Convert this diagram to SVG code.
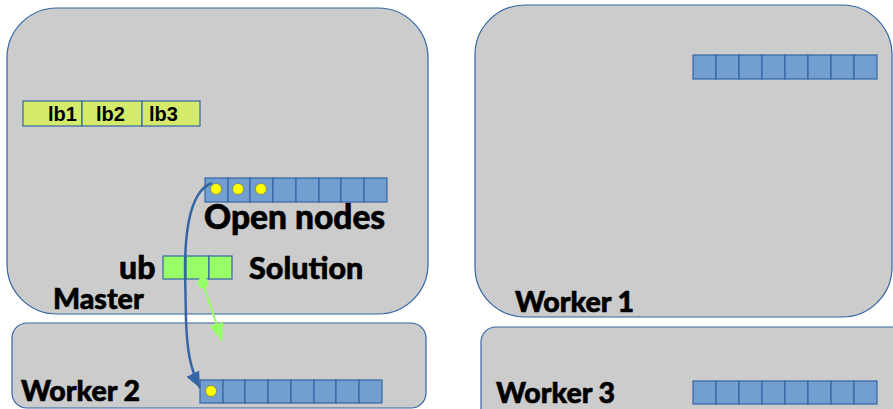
<svg xmlns="http://www.w3.org/2000/svg" width="893" height="409" viewBox="0 0 893 409">
  <defs>
    <style>
      .box { fill: #cccccc; stroke: #3465a4; stroke-width: 1.2; }
      .cell { fill: #729fcf; stroke: #3465a4; stroke-width: 1.2; }
      .lb { fill: #d4ea6b; stroke: #3465a4; stroke-width: 1.2; }
      .sol { fill: #99ff66; stroke: #3465a4; stroke-width: 1.2; }
      .dot { fill: #ffff00; stroke: #6b6b3a; stroke-width: 0.6; }
      .title { font-family: Lato, "Liberation Sans", sans-serif; font-weight: 900; fill: #000000; stroke: #000000; stroke-width: 0.6; }
      .lbtext { font-family: "Liberation Sans", Arial, sans-serif; font-weight: 700; font-size: 20px; fill: #000000; }
    </style>
    <marker id="headBlue" markerUnits="userSpaceOnUse" markerWidth="16" markerHeight="14" refX="16" refY="7" orient="auto">
      <path d="M0,0 L16,7 L0,14 Z" fill="#3465a4"/>
    </marker>
    <marker id="headGreen" markerUnits="userSpaceOnUse" markerWidth="18" markerHeight="14" refX="18" refY="7" orient="auto">
      <path d="M0,0 L18,7 L0,14 Z" fill="#99ff66"/>
    </marker>
  </defs>

  <!-- Master process -->
  <g id="master">
    <rect class="box" x="7" y="8" width="421" height="306" rx="50" ry="50"/>
    <g id="lower-bounds">
      <rect class="lb" x="23" y="101" width="59" height="25"/>
      <rect class="lb" x="82" y="101" width="60" height="25"/>
      <rect class="lb" x="142" y="101" width="58" height="25"/>
      <text class="lbtext" x="48" y="121">lb1</text>
      <text class="lbtext" x="96" y="121">lb2</text>
      <text class="lbtext" x="149" y="121">lb3</text>
    </g>
    <g id="open-nodes">
      <rect class="cell" x="205" y="178" width="23" height="24"/>
      <rect class="cell" x="228" y="178" width="22" height="24"/>
      <rect class="cell" x="250" y="178" width="23" height="24"/>
      <rect class="cell" x="273" y="178" width="23" height="24"/>
      <rect class="cell" x="296" y="178" width="23" height="24"/>
      <rect class="cell" x="319" y="178" width="22" height="24"/>
      <rect class="cell" x="341" y="178" width="23" height="24"/>
      <rect class="cell" x="364" y="178" width="23" height="24"/>
      <circle class="dot" cx="216" cy="189" r="5.5"/>
      <circle class="dot" cx="238" cy="189" r="5.5"/>
      <circle class="dot" cx="261" cy="189" r="5.5"/>
      <text class="title" x="204" y="229" font-size="33.5">Open nodes</text>
    </g>
    <g id="solution">
      <rect class="sol" x="163" y="256" width="23" height="23"/>
      <rect class="sol" x="186" y="256" width="23" height="23"/>
      <rect class="sol" x="209" y="256" width="23" height="23"/>
      <text class="title" x="119" y="279" font-size="32">ub</text>
      <text class="title" x="249" y="279" font-size="30.5">Solution</text>
    </g>
    <text class="title" x="53" y="309" font-size="28.5">Master</text>
  </g>

  <!-- Worker 2 -->
  <g id="worker2">
    <rect class="box" x="12" y="323" width="414" height="85" rx="15" ry="15"/>
    <rect class="cell" x="200" y="380" width="23" height="23"/>
    <rect class="cell" x="223" y="380" width="22" height="23"/>
    <rect class="cell" x="245" y="380" width="23" height="23"/>
    <rect class="cell" x="268" y="380" width="23" height="23"/>
    <rect class="cell" x="291" y="380" width="23" height="23"/>
    <rect class="cell" x="314" y="380" width="22" height="23"/>
    <rect class="cell" x="336" y="380" width="23" height="23"/>
    <rect class="cell" x="359" y="380" width="23" height="23"/>
    <circle class="dot" cx="211" cy="391" r="5.5"/>
    <text class="title" x="21" y="401" font-size="28.5">Worker 2</text>
  </g>

  <!-- Worker 1 -->
  <g id="worker1">
    <rect class="box" x="475" y="5" width="417" height="312" rx="50" ry="50"/>
    <rect class="cell" x="693" y="55" width="23" height="24"/>
    <rect class="cell" x="716" y="55" width="23" height="24"/>
    <rect class="cell" x="739" y="55" width="23" height="24"/>
    <rect class="cell" x="762" y="55" width="23" height="24"/>
    <rect class="cell" x="785" y="55" width="23" height="24"/>
    <rect class="cell" x="808" y="55" width="23" height="24"/>
    <rect class="cell" x="831" y="55" width="23" height="24"/>
    <rect class="cell" x="854" y="55" width="23" height="24"/>
    <text class="title" x="515" y="312" font-size="28.5">Worker 1</text>
  </g>

  <!-- Worker 3 -->
  <g id="worker3">
    <rect class="box" x="481" y="327" width="430" height="100" rx="15" ry="15"/>
    <rect class="cell" x="693" y="381" width="23" height="23"/>
    <rect class="cell" x="716" y="381" width="23" height="23"/>
    <rect class="cell" x="739" y="381" width="23" height="23"/>
    <rect class="cell" x="762" y="381" width="23" height="23"/>
    <rect class="cell" x="785" y="381" width="23" height="23"/>
    <rect class="cell" x="808" y="381" width="23" height="23"/>
    <rect class="cell" x="831" y="381" width="23" height="23"/>
    <rect class="cell" x="854" y="381" width="23" height="23"/>
    <text class="title" x="496" y="403" font-size="28.5">Worker 3</text>
  </g>

  <!-- Connectors -->
  <g id="connectors">
    <path d="M212,183 C192,190 185,225 185,270 L186,320 C187,350 190,368 200,388" fill="none" stroke="#3465a4" stroke-width="2.5" marker-end="url(#headBlue)"/>
    <circle cx="203" cy="283" r="5.5" fill="#99ff66"/>
    <line x1="203" y1="283" x2="222" y2="341" stroke="#99ff66" stroke-width="2" marker-end="url(#headGreen)"/>
  </g>
</svg>
